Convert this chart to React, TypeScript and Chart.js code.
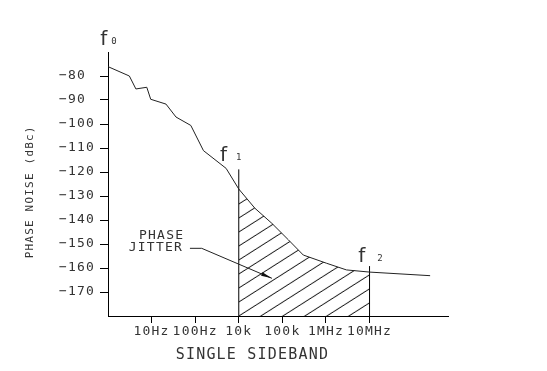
import { useEffect, useRef } from 'react';
import { Chart, registerables } from 'chart.js';

Chart.register(...registerables);

// ---- data (x = decade position index, y = dBc) ----
const curveX = [0, 0.49, 0.64, 0.89, 0.98, 1.33, 1.56, 1.9, 2.19, 2.71, 3.0, 3.37, 3.76, 4.14, 4.48, 5.01, 5.47, 6.0, 7.39];
const curveY = [-76.1, -80, -85.4, -84.7, -89.7, -91.7, -97.1, -100.6, -111.1, -118.5, -127.1, -135.1, -141.4, -148.3, -154.6, -158.0, -160.8, -161.7, -163.2];

const xTickPos = [1, 2, 3, 4, 5, 6];
const xTickLabels = ['10Hz', '100Hz', '10k', '100k', '1MHz', '10MHz'];
const yTickValues = [-170, -160, -150, -140, -130, -120, -110, -100, -90, -80];

const jitterStart = 3;
const jitterEnd = 6;
const markerX = [3, 6];
const markerTop = [-118.9, -159.2];

const markerLabels = [
  { main: 'f', sub: '0', x: -0.18, y: -67.1, subDx: 11 },
  { main: 'f', sub: '1', x: 2.57, y: -115.3, subDx: 16 },
  { main: 'f', sub: '2', x: 5.74, y: -157.4, subDx: 19 },
];
const jitterText = ['PHASE', 'JITTER'];
const jitterTextPos = [
  { x: 1.23, y: -146.7, align: 'center' },
  { x: 1.72, y: -151.7, align: 'right' },
];
const leaderX = [1.88, 2.15, 3.76];
const leaderY = [-151.8, -151.8, -164.3];

const TEXT = '#333';
const MONO = '"DejaVu Sans Mono", monospace';

function makeHatch(): CanvasPattern {
  const w = 22;
  const h = 14;
  const c = document.createElement('canvas');
  c.width = w;
  c.height = h;
  const g = c.getContext('2d') as CanvasRenderingContext2D;
  g.strokeStyle = '#000';
  g.lineWidth = 1;
  for (const n of [-1, 0, 1]) {
    g.beginPath();
    g.moveTo(0, h + n * h);
    g.lineTo(w, n * h);
    g.stroke();
  }
  return g.createPattern(c, 'repeat') as CanvasPattern;
}

export default function App() {
  const ref = useRef<HTMLCanvasElement>(null);

  useEffect(() => {
    const canvas = ref.current;
    if (!canvas) return;
    const pattern = makeHatch();

    const curve = curveX.map((x, i) => ({ x, y: curveY[i] }));
    const hatch = curve.filter((p) => p.x >= jitterStart && p.x <= jitterEnd);

    const annot = {
      id: 'annot',
      beforeDraw(chart: any) {
        chart.ctx.letterSpacing = '1.2px';
        const xs = chart.scales.x;
        const ys = chart.scales.y;
        if (pattern.setTransform) {
          pattern.setTransform(
            new DOMMatrix().translate(xs.getPixelForValue(jitterStart), ys.getPixelForValue(ys.min))
          );
        }
      },
      afterDraw(chart: any) {
        const ctx = chart.ctx as CanvasRenderingContext2D;
        const xs = chart.scales.x;
        const ys = chart.scales.y;
        ctx.save();
        ctx.fillStyle = TEXT;
        ctx.textBaseline = 'alphabetic';
        ctx.textAlign = 'left';
        for (const m of markerLabels) {
          const px = xs.getPixelForValue(m.x);
          const py = ys.getPixelForValue(m.y);
          ctx.font = '20px "DejaVu Sans", sans-serif';
          ctx.fillText(m.main, px, py);
          ctx.font = '9px ' + MONO;
          ctx.fillText(m.sub, px + m.subDx, py - 1);
        }
        ctx.font = '13px ' + MONO;
        ctx.textBaseline = 'middle';
        jitterText.forEach((t, i) => {
          const p = jitterTextPos[i];
          ctx.textAlign = p.align as CanvasTextAlign;
          ctx.fillText(t, xs.getPixelForValue(p.x), ys.getPixelForValue(p.y));
        });
        // leader line
        ctx.strokeStyle = '#222';
        ctx.lineWidth = 1;
        ctx.beginPath();
        leaderX.forEach((x, i) => {
          const px = xs.getPixelForValue(x);
          const py = ys.getPixelForValue(leaderY[i]);
          if (i === 0) ctx.moveTo(px, py);
          else ctx.lineTo(px, py);
        });
        ctx.stroke();
        // arrow head
        const n = leaderX.length;
        const ex = xs.getPixelForValue(leaderX[n - 1]);
        const ey = ys.getPixelForValue(leaderY[n - 1]);
        const sx = xs.getPixelForValue(leaderX[n - 2]);
        const sy = ys.getPixelForValue(leaderY[n - 2]);
        const len = Math.hypot(ex - sx, ey - sy);
        const ux = (ex - sx) / len;
        const uy = (ey - sy) / len;
        const bx = ex - ux * 11;
        const by = ey - uy * 11;
        ctx.fillStyle = '#111';
        ctx.beginPath();
        ctx.moveTo(ex, ey);
        ctx.lineTo(bx - uy * 1.8, by + ux * 1.8);
        ctx.lineTo(bx + uy * 1.8, by - ux * 1.8);
        ctx.closePath();
        ctx.fill();
        ctx.restore();
      },
    };

    const chart = new Chart(canvas, {
      type: 'line',
      data: {
        datasets: [
          {
            label: 'jitter',
            data: hatch,
            borderColor: 'transparent',
            borderWidth: 0,
            backgroundColor: pattern as any,
            fill: 'start',
            pointRadius: 0,
            tension: 0,
          },
          {
            label: 'phase noise',
            data: curve,
            borderColor: '#222',
            borderWidth: 1,
            pointRadius: 0,
            fill: false,
            tension: 0,
          },
          ...markerX.map((mx, i) => ({
            label: 'f' + (i + 1),
            data: [
              { x: mx, y: -180 },
              { x: mx, y: markerTop[i] },
            ],
            borderColor: '#000',
            borderWidth: 1,
            pointRadius: 0,
            fill: false,
          })),
        ],
      },
      options: {
        responsive: false,
        animation: false,
        devicePixelRatio: 1,
        layout: { padding: { left: 0, top: 52, right: 99, bottom: 0 } },
        plugins: {
          legend: { display: false },
          tooltip: { enabled: false },
        },
        scales: {
          x: {
            type: 'linear',
            position: 'bottom',
            min: 0,
            max: 7.8,
            afterBuildTicks: (s: any) => {
              s.ticks = xTickPos.map((v) => ({ value: v }));
            },
            afterFit: (s: any) => {
              s.height = 55;
            },
            ticks: {
              autoSkip: false,
              maxRotation: 0,
              padding: 1,
              color: TEXT,
              font: { family: MONO, size: 13 },
              callback: (v: any) => {
                const i = xTickPos.indexOf(Number(v));
                return i >= 0 ? xTickLabels[i] : '';
              },
            },
            grid: { drawOnChartArea: false, drawTicks: true, tickLength: 7, color: '#000', lineWidth: 1 },
            border: { display: true, color: '#000', width: 1 },
            title: {
              display: true,
              text: 'SINGLE SIDEBAND     ',
              color: TEXT,
              font: { family: MONO, size: 15 },
              padding: { top: 0, bottom: 7 },
            },
          },
          y: {
            type: 'linear',
            position: 'left',
            min: -180,
            max: -70,
            afterBuildTicks: (s: any) => {
              s.ticks = yTickValues.map((v) => ({ value: v }));
            },
            afterFit: (s: any) => {
              s.width = 108;
            },
            ticks: {
              padding: 5,
              color: TEXT,
              font: { family: MONO, size: 13 },
              crossAlign: 'near',
              callback: (v: any) => ('\u2212' + Math.abs(Number(v))).padEnd(4, ' '),
            },
            grid: { drawOnChartArea: false, drawTicks: true, tickLength: 8, color: '#000', lineWidth: 1 },
            border: { display: true, color: '#000', width: 1 },
            title: {
              display: true,
              text: 'PHASE NOISE (dBc)  ',
              color: TEXT,
              font: { family: MONO, size: 11 },
              padding: { top: 24, bottom: 0 },
            },
          },
        },
      },
      plugins: [annot],
    });

    return () => chart.destroy();
  }, []);

  return (
    <canvas
      ref={ref}
      width={547}
      height={371}
      style={{ position: 'fixed', left: 0, top: 0, width: 547, height: 371, display: 'block', background: '#fff' }}
    />
  );
}
